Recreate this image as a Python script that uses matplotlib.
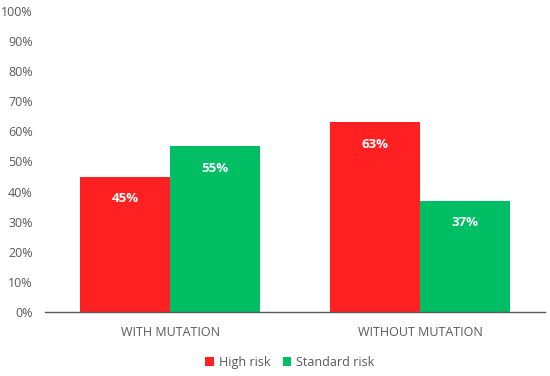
import matplotlib
matplotlib.use("Agg")
import matplotlib.pyplot as plt
import numpy as np

categories = ["WITH MUTATION", "WITHOUT MUTATION"]
series_names = ["High risk", "Standard risk"]
high_risk = [45, 63]
standard_risk = [55, 37]
y_ticks = [0, 10, 20, 30, 40, 50, 60, 70, 80, 90, 100]

RED = "#FF2121"
GREEN = "#00BE64"
TEXT = "#595959"

plt.rcParams["font.family"] = ["Open Sans", "DejaVu Sans"]

fig = plt.figure(figsize=(5.5, 3.76), dpi=100)
ax = fig.add_axes([0.082, 0.170, 0.909, 0.801])

x = np.arange(len(categories))
w = 0.36
b1 = ax.bar(x - w / 2, high_risk, w, color=RED, label=series_names[0])
b2 = ax.bar(x + w / 2, standard_risk, w, color=GREEN, label=series_names[1])

for bars, vals in ((b1, high_risk), (b2, standard_risk)):
    for rect, v in zip(bars, vals):
        ax.annotate(f"{v}%", (rect.get_x() + rect.get_width() / 2, v),
                    xytext=(0, -16), textcoords="offset points",
                    ha="center", va="center", color="white",
                    fontsize=9.5, fontweight="bold")

ax.set_xlim(-0.5, 1.5)
ax.set_ylim(0, 100)
ax.set_yticks(y_ticks)
ax.set_yticklabels([f"{t}%" for t in y_ticks])
ax.set_xticks(x)
ax.set_xticklabels(categories)
ax.tick_params(axis="both", length=0, colors=TEXT, labelsize=9)
ax.tick_params(axis="x", pad=10)
ax.tick_params(axis="y", pad=9)

for s in ("top", "right", "left"):
    ax.spines[s].set_visible(False)
ax.spines["bottom"].set_color("#595959")
ax.spines["bottom"].set_linewidth(1.0)

leg = fig.legend(loc="center", bbox_to_anchor=(0.527, 0.036), ncol=2,
                 frameon=False, fontsize=9, handlelength=0.7, handleheight=0.7,
                 handletextpad=0.4, columnspacing=1.0)
for t in leg.get_texts():
    t.set_color(TEXT)

fig.savefig("out.png", dpi=100)
